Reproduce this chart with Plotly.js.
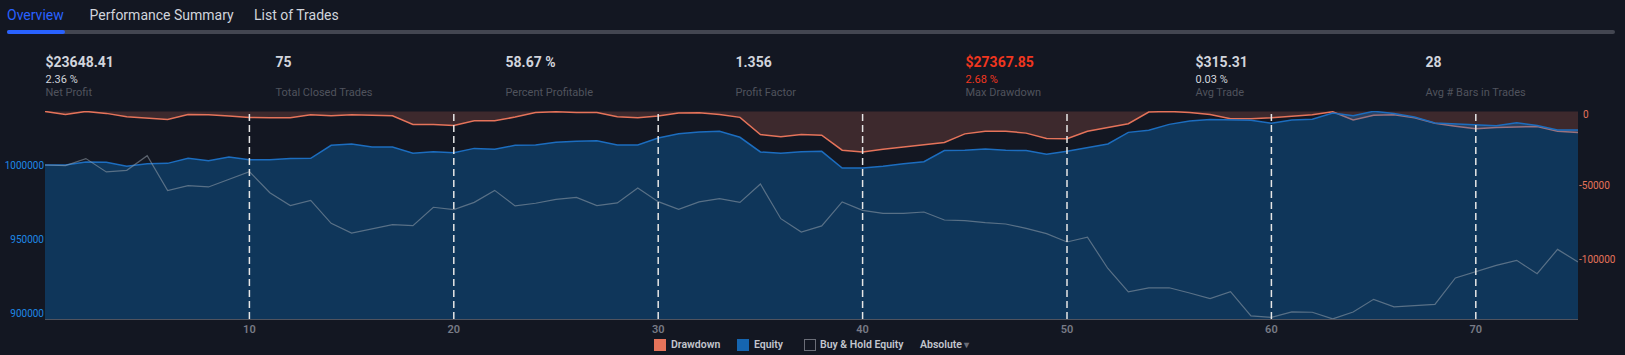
<!DOCTYPE html>
<html>
<head>
<meta charset="utf-8">
<script src="https://cdn.plot.ly/plotly-3.0.1.min.js"></script>
<style>
html,body{margin:0;padding:0;background:#131722;width:1625px;height:355px;overflow:hidden;font-family:Roboto,"Liberation Sans",Arial,sans-serif;}
#chart{position:absolute;left:0;top:0;width:1625px;height:355px;}
.tab{position:absolute;top:5px;font-size:14px;line-height:20px;color:#d1d4dc;white-space:nowrap;}
.bar{position:absolute;top:30px;height:4px;border-radius:2px;}
.sv{position:absolute;top:54px;font-size:14px;line-height:16px;font-weight:bold;color:#d1d4dc;white-space:nowrap;}
.ss{position:absolute;top:73px;font-size:11px;line-height:14px;color:#d1d4dc;white-space:nowrap;}
.sl{position:absolute;top:86px;font-size:11px;line-height:14px;color:#50535d;white-space:nowrap;}
.lg{position:absolute;top:338px;height:14px;font-size:10.5px;line-height:14px;font-weight:600;color:#c3c6ce;white-space:nowrap;}
.sq{position:absolute;top:339px;width:12px;height:12px;box-sizing:border-box;}
</style>
</head>
<body>
<div id="chart"></div>
<div id="overlay"></div>
<script>
// ---------- data ----------
var tabs = ["Overview", "Performance Summary", "List of Trades"];
var statValues = ["$23648.41", "75", "58.67 %", "1.356", "$27367.85", "$315.31", "28"];
var statSubs   = ["2.36 %", "", "", "", "2.68 %", "0.03 %", ""];
var statLabels = ["Net Profit", "Total Closed Trades", "Percent Profitable", "Profit Factor", "Max Drawdown", "Avg Trade", "Avg # Bars in Trades"];
var legendNames = ["Drawdown", "Equity", "Buy & Hold Equity", "Absolute"];

var trades = [0,1,2,3,4,5,6,7,8,9,10,11,12,13,14,15,16,17,18,19,20,21,22,23,24,25,26,27,28,29,
30,31,32,33,34,35,36,37,38,39,40,41,42,43,44,45,46,47,48,49,50,51,52,53,54,55,56,57,58,59,
60,61,62,63,64,65,66,67,68,69,70,71,72,73,74,75];

var equity = [1000000,1000000,1002000,1001800,999100,1000900,1001100,1004500,1002900,1005400,
1003600,1003600,1004300,1004500,1013300,1014200,1012100,1012100,1007900,1009000,
1008300,1011200,1010600,1013300,1013500,1015300,1016000,1016400,1013500,1013500,
1018200,1021100,1022300,1022700,1018700,1008800,1007900,1009000,1009200,998000,
998000,999100,1000900,1002200,1009700,1009900,1010800,1009900,1009700,1007200,
1009200,1011700,1014200,1022000,1023400,1027400,1029700,1030600,1030100,1030100,
1028100,1030300,1030800,1035000,1033300,1036200,1034800,1032400,1028300,1027600,
1027000,1026500,1028500,1026700,1023600,1023648];

var drawdown = [0,-2000,0,-1300,-3600,-4500,-5400,-2000,-2200,-3100,
-4000,-4300,-4300,-2200,-2900,-2200,-2500,-2900,-8800,-8800,
-9400,-6300,-6300,-3800,-700,-200,-700,-700,-3600,-4300,
-3100,-1100,-900,-2000,-4000,-15500,-17100,-15500,-16000,-26100,
-27368,-25400,-24000,-22500,-20900,-15100,-13300,-13300,-14600,-18200,
-18400,-13300,-11000,-8300,-400,0,-700,-2000,-4900,-4900,
-4300,-3100,-2200,-200,-5800,-2500,-2200,-4300,-7900,-9900,
-11700,-10800,-10600,-10100,-13300,-14200];

var buyHold = [1000000,999600,1004300,995300,996400,1006300,982700,986100,985200,990600,
995500,981300,972600,976200,960700,954100,957100,959800,959100,971500,
969900,974800,982900,972400,974200,976800,978200,972600,974400,984500,
975300,970100,975100,977300,974800,987200,963800,954800,958900,975100,
969400,967400,967400,968300,962900,962500,961100,960200,957300,953700,
948100,951300,930200,914400,917200,917200,913700,909900,914600,898200,
897300,900900,900700,896200,900900,909400,904300,905200,906000,923800,
927800,932300,935700,926700,943100,934600];

var xTicks = [10,20,30,40,50,60,70];
var xTickLabels = ["10","20","30","40","50","60","70"];
var eqTicks = [900000,950000,1000000];
var eqTickLabels = ["900000","950000","1000000"];
var ddTicks = [-100000,-50000];
var ddTickLabels = ["-100000","-50000"];
var ddZeroLabel = "0";

// ---------- HTML header / legend ----------
var ov = document.getElementById('overlay');
function add(cls, txt, left, extra){
  var d = document.createElement('div');
  d.className = cls; d.textContent = txt; d.style.left = left + 'px';
  if (extra) for (var k in extra) d.style[k] = extra[k];
  ov.appendChild(d); return d;
}
var tabX = [7, 89.5, 254];
tabs.forEach(function(t,i){ add('tab', t, tabX[i], i===0 ? {color:'#2962ff'} : null); });
add('bar', '', 7, {width:'1608px', background:'#434651'});
add('bar', '', 7, {width:'58px', background:'#2962ff'});

statValues.forEach(function(v,i){
  var x = 45.5 + 230*i;
  var red = (i === 4);
  add('sv', v, x, red ? {color:'#f0361f'} : null);
  if (statSubs[i]) add('ss', statSubs[i], x, red ? {color:'#f0361f'} : null);
  add('sl', statLabels[i], x);
});

add('sq', '', 654, {background:'#e5735a'});
add('lg', legendNames[0], 671);
add('sq', '', 737, {background:'#1565b0'});
add('lg', legendNames[1], 754);
add('sq', '', 803.5, {border:'1px solid #6b6e78'});
add('lg', legendNames[2], 820);
add('lg', legendNames[3], 920);
add('lg', '\u25BE', 964, {color:'#6b6e78', fontSize:'10px'});

// ---------- chart ----------
var traces = [
  { x: trades, y: drawdown, type:'scatter', mode:'lines', name:'Drawdown', yaxis:'y',
    fill:'tozeroy', fillcolor:'rgba(229,115,90,0.2)',
    line:{color:'#e5735a', width:1.5}, hoverinfo:'skip' },
  { x: trades, y: equity, type:'scatter', mode:'lines', name:'Equity', yaxis:'y2',
    fill:'tozeroy', fillcolor:'rgba(10,112,194,0.35)',
    line:{color:'#1c6dbf', width:1.5}, hoverinfo:'skip' },
  { x: trades, y: buyHold, type:'scatter', mode:'lines', name:'Buy & Hold Equity', yaxis:'y2',
    line:{color:'rgba(150,160,172,0.55)', width:1.2}, hoverinfo:'skip' }
];

var shapes = xTicks.map(function(v){
  return {type:'line', xref:'x', yref:'paper', x0:v, x1:v, y0:0, y1:1, layer:'above',
          line:{color:'#e6e6e6', width:1.5, dash:'7px,4px'}};
});

var layout = {
  width:1625, height:355,
  margin:{l:45, r:47.3, t:111, b:36, pad:0},
  paper_bgcolor:'rgba(0,0,0,0)', plot_bgcolor:'#131722',
  showlegend:false,
  font:{family:'Roboto, "Liberation Sans", Arial, sans-serif'},
  xaxis:{range:[0,75], tickvals:xTicks, ticktext:xTickLabels, showgrid:false, zeroline:false,
         showline:true, linecolor:'#50535e', linewidth:1, ticks:'',
         tickfont:{color:'#787b86', size:11, weight:600}, fixedrange:true},
  yaxis:{range:[-139800,300], side:'right', tickvals:ddTicks, ticktext:ddTickLabels,
         showgrid:false, zeroline:false, showline:false, ticks:'',
         tickfont:{color:'#e5735a', size:10}, fixedrange:true},
  yaxis2:{range:[896156,1036413], overlaying:'y', side:'left', tickvals:eqTicks, ticktext:eqTickLabels,
          showgrid:false, zeroline:false, showline:false, ticks:'',
          tickfont:{color:'#1e88e5', size:10}, fixedrange:true},
  annotations:[{xref:'paper', yref:'y', x:1, y:0, text:ddZeroLabel, showarrow:false,
                xanchor:'left', yanchor:'top', xshift:3, yshift:4,
                font:{color:'#e5735a', size:10}}],
  shapes: shapes
};

Plotly.newPlot('chart', traces, layout, {displayModeBar:false, staticPlot:true});
</script>
</body>
</html>
